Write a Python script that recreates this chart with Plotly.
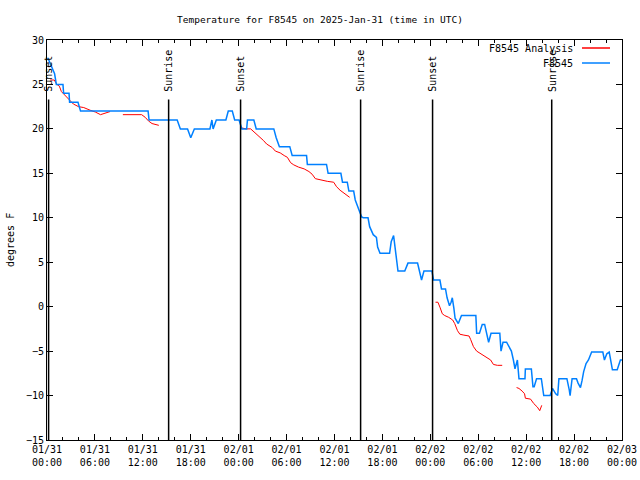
import pandas as pd
import plotly.graph_objects as go

START = pd.Timestamp("2025-01-31 00:00")

# F8545 observations: hours since 2025-01-31 00:00 UTC, temperature (deg F)
obs_hours = [0.1, 0.4, 0.6, 0.95, 1.17, 2.0, 2.08, 2.76, 2.83, 3.88, 4.2, 12.66, 12.78, 16.3, 16.7,
             17.6, 18.0, 18.45, 20.4, 20.65, 20.8, 21.2, 22.4, 22.7, 23.2, 23.5, 24.05, 24.2, 24.4,
             25.0, 25.1, 25.9, 26.2, 28.4, 28.7, 29.1, 30.4, 30.7, 32.5, 32.6, 35.0, 35.2, 36.8,
             37.0, 37.6, 37.8, 38.4, 38.6, 38.85, 39.1, 39.4, 39.6, 40.2, 40.4, 40.85, 41.25, 41.4,
             41.7, 42.9, 43.1, 43.4, 43.55, 43.85, 43.95, 44.8, 45.2, 46.4, 46.7, 46.9, 47.2, 48.2,
             48.4, 49.2, 49.4, 49.9, 50.1, 50.4, 50.6, 50.75, 50.95, 51.1, 51.5, 51.9, 53.7, 53.8,
             54.15, 54.5, 54.8, 55.05, 55.3, 55.6, 56.7, 56.85, 57.1, 57.55, 57.9, 58.15, 58.4, 58.6,
             58.9, 59.1, 59.85, 59.9, 60.65, 60.85, 61.0, 61.3, 61.9, 62.2, 63.0, 63.3, 63.7, 63.95,
             64.1, 65.1, 65.4, 65.5, 65.75, 66.3, 66.5, 66.8, 67.0, 67.2, 67.5, 67.8, 68.2, 69.6,
             69.8, 70.1, 70.4, 70.6, 70.8, 71.4, 71.8, 72.0]
obs_temps = [28.0, 27.3, 26.8, 26.2, 25.0, 25.0, 24.0, 24.0, 23.0, 23.0, 22.0, 22.0, 21.0, 21.0, 20.0,
             20.0, 19.0, 20.0, 20.0, 21.0, 20.0, 21.0, 21.0, 22.0, 22.0, 21.0, 21.0, 20.5, 20.0,
             20.0, 21.0, 21.0, 20.0, 20.0, 19.0, 18.0, 18.0, 17.0, 17.0, 16.0, 16.0, 15.0, 15.0,
             14.0, 14.0, 13.0, 13.0, 12.0, 11.5, 10.8, 10.1, 10.0, 10.0, 9.0, 8.1, 7.8, 6.7,
             6.0, 6.0, 7.3, 8.0, 6.7, 4.8, 4.0, 4.0, 4.9, 4.9, 3.9, 3.0, 4.0, 4.0,
             3.0, 3.0, 2.0, 2.0, 1.0, 0.1, 0.5, 1.0, -0.2, -1.3, -1.9, -1.0, -1.0, -3.0,
             -3.0, -2.0, -2.0, -3.0, -4.0, -3.0, -3.0, -5.0, -4.0, -4.0, -4.5, -5.0, -6.0, -7.0,
             -6.0, -8.1, -8.1, -7.0, -7.0, -9.0, -9.0, -8.1, -8.1, -10.0, -10.0, -9.2, -9.8, -10.0,
             -8.1, -8.1, -9.4, -10.0, -8.1, -8.1, -8.6, -9.1, -8.3, -7.3, -6.4, -6.0, -5.1, -5.1,
             -6.0, -5.3, -5.1, -6.0, -7.1, -7.1, -6.0, -6.0]

# F8545 Analysis (None = gap)
ana_hours = [0.4, 0.9, 1.25, 1.55, 1.8, 2.3, 3.3, 3.95, 4.6, 5.4, 6.05, 6.7, 7.3, 7.9, None,
             9.5, 11.85, 12.3, 12.7, 13.15, 13.6, 14.0, None,
             24.4, 24.95, 25.5, 25.9, 26.3, 26.7, 27.1, 27.5, 28.2, 28.6, 29.2, 29.7, 30.1, 30.5,
             30.9, 31.5, 32.2, 32.8, 33.2, 33.6, 34.5, 35.1, 35.9, 36.25, 36.7, 37.2, 37.6, 37.9, None,
             48.65, 48.95, 49.2, 49.5, 49.8, 50.3, 50.8, 51.05, 51.4, 51.7, 52.2, 52.85, 53.05, 53.4,
             53.8, 54.3, 54.9, 55.55, 55.9, 56.4, 57.0, None,
             58.8, 59.1, 59.5, 59.8, 59.9, 60.55, 60.95, 61.4, 61.7, 61.95]
ana_temps = [25.5, 25.5, 25.0, 24.8, 24.2, 23.7, 22.8, 22.5, 22.4, 22.1, 21.9, 21.6, 21.75, 21.95, None,
             21.6, 21.6, 21.3, 20.9, 20.6, 20.5, 20.4, None,
             20.1, 20.0, 20.0, 19.7, 19.4, 19.0, 18.7, 18.3, 17.9, 17.5, 17.3, 17.0, 16.8, 16.2,
             15.95, 15.7, 15.5, 15.2, 14.9, 14.4, 14.2, 14.1, 14.0, 13.5, 13.1, 12.8, 12.5, 12.3, None,
             0.5, 0.5, -0.05, -0.8, -1.0, -1.2, -1.5, -1.9, -2.7, -3.1, -3.2, -3.3, -3.7, -4.5,
             -5.0, -5.3, -5.7, -6.0, -6.5, -6.6, -6.6, None,
             -9.1, -9.2, -9.5, -9.8, -10.3, -10.4, -10.9, -11.3, -11.7, -11.1]

event_hours = [0.2, 15.23, 24.24, 39.27, 48.28, 63.2]
event_names = ["Sunset", "Sunrise", "Sunset", "Sunrise", "Sunset", "Sunrise"]

Y_MIN, Y_MAX = -15, 30
EVENT_TOP = 23.3


def to_time(hours):
    return [None if h is None else START + pd.Timedelta(hours=h) for h in hours]


FONT = "DejaVu Sans Mono"
RED = "#ff0000"
BLUE = "#0080ff"
PW = 575  # plot width in px
PH = 400  # plot height in px

fig = go.Figure()
fig.add_trace(go.Scatter(x=to_time(ana_hours), y=ana_temps, mode="lines",
                         line=dict(color=RED, width=1), connectgaps=False,
                         name="F8545 Analysis", showlegend=False))
fig.add_trace(go.Scatter(x=to_time(obs_hours), y=obs_temps, mode="lines",
                         line=dict(color=BLUE, width=1.5),
                         name="F8545", showlegend=False))

for h, name in zip(event_hours, event_names):
    t = START + pd.Timedelta(hours=h)
    fig.add_shape(type="line", xref="x", yref="y", x0=t, x1=t, y0=Y_MIN, y1=EVENT_TOP,
                  line=dict(color="black", width=1.5))
    fig.add_annotation(x=t, y=EVENT_TOP + 0.6, xref="x", yref="y", text=name,
                       textangle=-90, showarrow=False, xanchor="center", yanchor="bottom",
                       font=dict(family=FONT, size=10, color="black"))

# manual gnuplot-style legend (text right, sample line to its right)
legend_items = [("F8545 Analysis", RED), ("F8545", BLUE)]
for i, (label, color) in enumerate(legend_items):
    ypix = 48 + 15 * i
    ypaper = 1 - (ypix - 40) / PH
    fig.add_annotation(x=(575 - 47) / PW, y=ypaper, xref="paper", yref="paper", text=label,
                       showarrow=False, xanchor="right", yanchor="middle",
                       font=dict(family=FONT, size=10, color="black"))
    fig.add_shape(type="line", xref="paper", yref="paper",
                  x0=(582 - 47) / PW, x1=(610 - 47) / PW, y0=ypaper, y1=ypaper,
                  line=dict(color=color, width=1.5))

# y-axis label
fig.add_annotation(x=(10 - 47) / PW, y=0.5, xref="paper", yref="paper", text="degrees F",
                   textangle=-90, showarrow=False, xanchor="center", yanchor="middle",
                   font=dict(family=FONT, size=10, color="black"))

fig.update_layout(
    width=640, height=480,
    margin=dict(l=47, r=18, t=40, b=40, autoexpand=False),
    paper_bgcolor="white", plot_bgcolor="white",
    font=dict(family=FONT, size=10, color="black"),
    title=dict(text="Temperature for F8545 on 2025-Jan-31 (time in UTC)",
               x=0.5, xanchor="center", y=1 - 20 / 480, yanchor="middle",
               font=dict(family=FONT, size=9.5, color="black")),
    showlegend=False,
)
fig.update_xaxes(
    range=[START, START + pd.Timedelta(hours=72)], automargin=False,
    tickformat="%m/%d<br>%H:%M", dtick=6 * 3600 * 1000, tick0=START,
    ticks="inside", ticklen=6, tickwidth=1, tickcolor="black",
    minor=dict(dtick=2 * 3600 * 1000, ticks="inside", ticklen=3, tickcolor="black"),
    showline=True, linecolor="black", linewidth=1, mirror="allticks",
    showgrid=False, zeroline=False,
    tickfont=dict(family=FONT, size=10, color="black"),
)
fig.update_yaxes(
    range=[Y_MIN, Y_MAX], dtick=5, tick0=0, automargin=False,
    ticks="inside", ticklen=6, tickwidth=1, tickcolor="black",
    showline=True, linecolor="black", linewidth=1, mirror="allticks",
    showgrid=False, zeroline=False,
    tickfont=dict(family=FONT, size=10, color="black"),
)

fig.write_html("out.html", config={"displayModeBar": False},
               post_script="document.body.style.margin='0';document.body.style.overflow='hidden';")
